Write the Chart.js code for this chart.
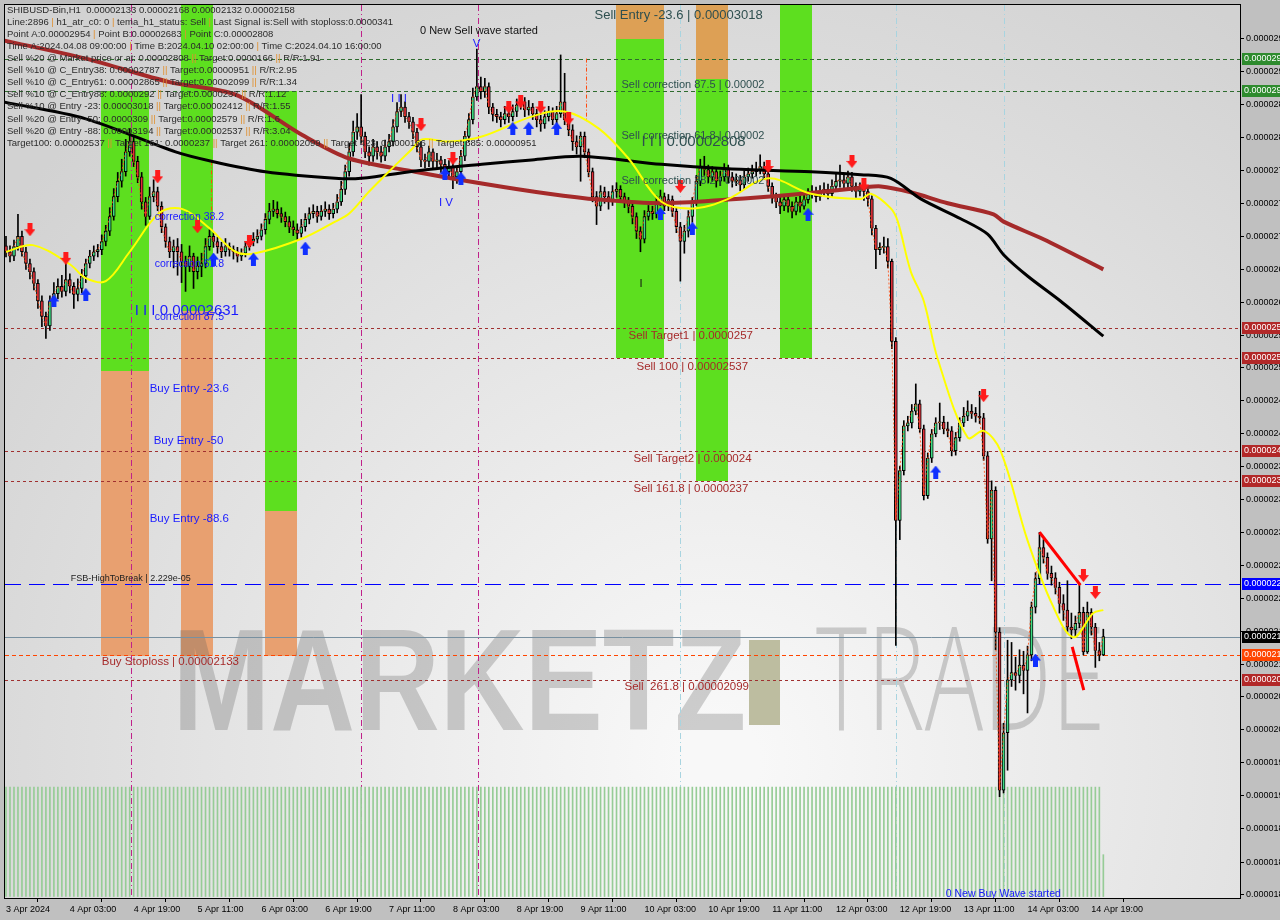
<!DOCTYPE html>
<html>
<head>
<meta charset="utf-8">
<title>SHIBUSD-Bin,H1</title>
<script src="https://cdn.jsdelivr.net/npm/chart.js@4.4.1/dist/chart.umd.min.js"></script>
<style>
  html, body { margin: 0; padding: 0; background: #c0c0c0; }
  canvas { display: block; }
</style>
</head>
<body>
<canvas id="chart" width="1280" height="920"></canvas>
<script>
"use strict";

// all prices are in points of 0.00000001 USD
const POINT = 1e-8;

//-------------- candles (H1 bars, 3 Apr 11:00 -> 14 Apr 22:00) -------------
const firstOpen = 2690;
const closes = [
  2682,2676,2689,2703,2682,2666,2655,2639,2615,2594,
  2581,2615,2625,2635,2628,2644,2635,2624,2632,2649,
  2666,2676,2682,2685,2696,2710,2730,2757,2778,2791,
  2818,2832,2805,2784,2750,2730,2757,2764,2744,2716,
  2696,2682,2689,2682,2669,2662,2676,2655,2662,2666,
  2689,2703,2696,2689,2682,2689,2685,2682,2676,2680,
  2689,2696,2699,2703,2712,2726,2737,2740,2734,2730,
  2723,2716,2712,2707,2716,2726,2734,2737,2730,2737,
  2740,2734,2740,2750,2767,2791,2818,2845,2852,2839,
  2818,2812,2825,2818,2812,2825,2832,2852,2873,2879,
  2866,2859,2845,2825,2807,2805,2818,2805,2807,2801,
  2791,2798,2784,2791,2812,2839,2862,2893,2907,2900,
  2907,2879,2869,2866,2862,2870,2866,2873,2882,2886,
  2875,2879,2870,2862,2856,2866,2873,2862,2870,2886,
  2862,2848,2832,2825,2839,2818,2791,2757,2744,2764,
  2757,2750,2764,2767,2757,2750,2744,2730,2710,2699,
  2730,2737,2734,2750,2757,2744,2753,2737,2716,2696,
  2710,2730,2750,2778,2798,2794,2784,2791,2778,2784,
  2794,2784,2778,2780,2773,2784,2788,2791,2794,2798,
  2788,2771,2757,2750,2744,2753,2744,2737,2750,2744,
  2753,2761,2764,2757,2764,2767,2761,2771,2778,2780,
  2775,2784,2771,2764,2768,2764,2754,2714,2685,2688,
  2689,2669,2560,2316,2384,2445,2449,2465,2475,2441,
  2350,2401,2434,2449,2450,2441,2438,2411,2429,2449,
  2458,2465,2462,2458,2456,2404,2291,2357,2164,1949,
  2027,2099,2109,2105,2119,2112,2133,2198,2237,2279,
  2266,2244,2238,2225,2203,2194,2171,2167,2176,2191,
  2137,2191,2171,2139,2133,2158
];
const highs = [
  2703,2690,2698,2733,2710,2688,2672,2660,2644,2622,
  2600,2622,2640,2645,2650,2666,2652,2640,2645,2658,
  2672,2684,2690,2692,2705,2718,2742,2768,2790,2808,
  2835,2850,2838,2812,2790,2756,2770,2780,2770,2750,
  2720,2702,2698,2700,2692,2676,2690,2680,2675,2680,
  2700,2712,2708,2702,2695,2700,2694,2690,2688,2686,
  2696,2704,2708,2712,2720,2734,2748,2752,2750,2742,
  2736,2730,2724,2720,2726,2734,2742,2746,2744,2745,
  2750,2746,2748,2760,2778,2800,2830,2860,2870,2896,
  2845,2825,2835,2832,2826,2834,2842,2862,2885,2896,
  2886,2872,2865,2850,2832,2815,2826,2822,2816,2812,
  2808,2806,2802,2798,2820,2846,2870,2905,2958,2920,
  2918,2912,2884,2876,2872,2880,2878,2882,2890,2895,
  2892,2888,2884,2876,2868,2874,2880,2878,2880,2950,
  2925,2868,2855,2840,2845,2845,2822,2796,2764,2772,
  2770,2764,2772,2776,2772,2762,2756,2750,2735,2716,
  2738,2745,2744,2758,2766,2762,2760,2758,2742,2722,
  2718,2738,2756,2786,2808,2812,2800,2798,2796,2792,
  2802,2800,2790,2788,2786,2792,2796,2800,2804,2814,
  2804,2792,2776,2762,2756,2760,2758,2750,2756,2758,
  2760,2768,2772,2770,2772,2776,2774,2780,2790,2800,
  2788,2792,2790,2776,2776,2774,2770,2758,2718,2694,
  2702,2700,2672,2565,2390,2452,2458,2474,2502,2480,
  2446,2408,2440,2456,2476,2458,2450,2444,2436,2456,
  2470,2479,2474,2470,2492,2462,2410,2370,2362,2170,
  2040,2153,2150,2130,2140,2138,2145,2205,2245,2300,
  2290,2272,2254,2245,2232,2215,2234,2190,2186,2229,
  2198,2205,2196,2176,2150,2168
];
const lows = [
  2675,2668,2670,2684,2676,2658,2645,2630,2605,2580,
  2564,2575,2608,2618,2620,2622,2626,2605,2615,2626,
  2640,2660,2670,2675,2678,2690,2704,2725,2750,2770,
  2785,2812,2798,2776,2740,2718,2726,2750,2738,2708,
  2688,2674,2660,2650,2640,2628,2655,2632,2645,2648,
  2660,2684,2688,2680,2674,2676,2676,2672,2668,2670,
  2675,2684,2690,2694,2698,2706,2720,2730,2728,2722,
  2716,2708,2704,2698,2702,2710,2720,2728,2722,2725,
  2730,2726,2728,2735,2745,2760,2785,2812,2835,2830,
  2810,2800,2805,2808,2804,2806,2818,2826,2845,2866,
  2858,2850,2836,2818,2798,2796,2798,2796,2796,2790,
  2784,2785,2768,2775,2785,2806,2832,2856,2888,2890,
  2892,2870,2860,2858,2852,2856,2858,2860,2866,2876,
  2866,2868,2862,2852,2846,2850,2860,2855,2856,2865,
  2855,2840,2820,2815,2778,2810,2784,2750,2719,2738,
  2748,2740,2745,2756,2750,2742,2735,2720,2700,2682,
  2694,2725,2726,2728,2745,2738,2738,2730,2708,2642,
  2680,2702,2722,2745,2772,2786,2776,2778,2770,2772,
  2778,2776,2770,2772,2765,2768,2778,2782,2785,2788,
  2780,2764,2748,2742,2734,2738,2736,2728,2732,2736,
  2740,2748,2755,2750,2752,2758,2754,2756,2766,2770,
  2766,2768,2764,2756,2758,2752,2744,2705,2659,2678,
  2680,2660,2550,2146,2290,2378,2438,2442,2460,2436,
  2344,2346,2395,2430,2440,2434,2430,2404,2405,2424,
  2444,2452,2455,2450,2448,2398,2285,2234,2140,1940,
  1945,1976,2090,2085,2095,2080,2054,2125,2190,2230,
  2258,2236,2228,2216,2190,2180,2165,2155,2157,2170,
  2133,2135,2160,2116,2125,2132
];

//-------------- axes ---------------------------------------------------------
const priceMin = 1802;
const priceMax = 3018;
const priceTicks = [2972,2927,2882,2837,2792,2748,2703,2658,2613,2568,2524,2479,2434,
  2389,2344,2300,2255,2210,2165,2120,2076,2031,1986,1941,1896,1851,1807];
const timeTickBars = [0,16,32,48,64,80,96,112,128,144,160,176,192,208,224,240,256,272];
const timeLabels = ["3 Apr 2024","4 Apr 03:00","4 Apr 19:00","5 Apr 11:00","6 Apr 03:00",
  "6 Apr 19:00","7 Apr 11:00","8 Apr 03:00","8 Apr 19:00","9 Apr 11:00","10 Apr 03:00",
  "10 Apr 19:00","11 Apr 11:00","12 Apr 03:00","12 Apr 19:00","13 Apr 11:00",
  "14 Apr 03:00","14 Apr 19:00"];
const barMin = -0.25;
const barMax = 309.25;

//-------------- moving averages ([bar, price]) -------------------------------
const maBlack = [[-0.75,2886],[20,2863],[42.5,2818],[51.75,2805],[65,2791],[82.5,2782],
  [89,2782],[104.25,2793],[119.25,2801],[131.75,2807],[144.25,2812],[164.25,2801],
  [181,2795],[201.75,2791],[214.25,2787],[221.75,2782],[229.25,2754],[239.25,2727],
  [246,2706],[250,2678],[256,2649],[264.25,2615],[275,2567]];
const maRed = [[-0.75,2970],[20,2945],[41,2913],[57.5,2896],[74.25,2841],[86,2809],
  [102.5,2791],[119.25,2775],[136,2761],[148.5,2753],[164.25,2748],[181,2753],
  [197.5,2760],[214.25,2769],[219.25,2771],[226.75,2763],[236,2748],[247.5,2733],
  [250,2723],[260,2699],[275,2658]];
const maYellow = [[0,2682],[6.75,2691],[16,2665],[20,2646],[25,2642],[31,2682],[38.5,2735],
  [44.25,2740],[51,2714],[57.5,2682],[62.5,2680],[74.25,2700],[82.5,2723],[86,2734],
  [91,2764],[94.25,2782],[101.75,2822],[104.25,2835],[111,2832],[119.25,2839],
  [131.75,2866],[140,2873],[148.5,2850],[156,2809],[164.25,2750],[172.5,2741],[181,2754],
  [191,2782],[201.75,2761],[214.25,2754],[216.75,2761],[221.75,2741],[223.5,2723],
  [226.75,2655],[230,2615],[233.5,2536],[241,2429],[245,2438],[249.25,2411],[256,2289],
  [262.5,2198],[267.5,2157],[272.5,2190],[275,2194]];

//-------------- signals -------------------------------------------------------
const sellArrows = [[6,2712],[15,2673],[38,2784],[48,2716],[61,2696],[104,2855],[112,2809],
  [126,2879],[129,2886],[134,2879],[141,2863],[169,2771],[191,2798],[212,2805],[215,2773],
  [245,2486],[270,2241],[273,2218]];
const buyArrows = [[12,2615],[20,2624],[52,2672],[62,2672],[75,2687],[110,2788],[114,2782],
  [127,2850],[131,2850],[138,2850],[164,2734],[172,2714],[201,2733],[233,2382],[258,2126]];
const trendUpper = [[259,2300],[269.25,2228]];
const trendLower = [[267.2,2144],[270.1,2085]];

// wave state histogram: [first bar, last bar, level]
const histRuns = [[0,274,1953],[275,275,1861]];
const histBase = 1804;

//-------------- levels and zones ---------------------------------------------
const correctionLevels = [2945, 2901];
const sellLevels = [2578, 2537, 2411, 2370, 2099];
const fsbLevel = 2229;
const lastPrice = closes[closes.length - 1];
const buyStopLevel = 2133;
// [from bar, to bar, green top, green bottom / orange top, orange bottom]
const buyZones = [[23.9,35.8,2901,2519,2132],[43.9,51.8,3018,2601,2132],[64.9,73,2901,2329,2132]];
// [from bar, to bar, orange top, orange bottom / green top, green bottom]
const sellZones = [[152.9,164.8,3018,2972,2537],[172.9,181,3018,2917,2370],[193.9,202,3018,3018,2537]];
const stopZone = [186.2,193.9,2153,2037];
const waveMarks = [31.25, 89, 118.25];
const pivotMarks = [169, 223, 250];
const signalMarks = [[51.25,2805,2719],[145.25,2945,2859]];

//-------------- texts ---------------------------------------------------------
const infoLines = [
  "SHIBUSD-Bin,H1  0.00002133 0.00002168 0.00002132 0.00002158",
  "Line:2896 | h1_atr_c0: 0 | tema_h1_status: Sell | Last Signal is:Sell with stoploss:0.0000341",
  "Point A:0.00002954 | Point B:0.00002683 | Point C:0.00002808",
  "Time A:2024.04.08 09:00:00 | Time B:2024.04.10 02:00:00 | Time C:2024.04.10 16:00:00",
  "Sell %20 @ Market price or at: 0.00002808 || Target:0.0000166 || R/R:1.91",
  "Sell %10 @ C_Entry38: 0.00002787 || Target:0.00000951 || R/R:2.95",
  "Sell %10 @ C_Entry61: 0.00002865 || Target:0.00002099 || R/R:1.34",
  "Sell %10 @ C_Entry88: 0.0000292 || Target:0.0000237 || R/R:1.12",
  "Sell %10 @ Entry -23: 0.00003018 || Target:0.00002412 || R/R:1.55",
  "Sell %20 @ Entry -50: 0.0000309 || Target:0.00002579 || R/R:1.6",
  "Sell %20 @ Entry -88: 0.00003194 || Target:0.00002537 || R/R:3.04",
  "Target100: 0.00002537 || Target 161: 0.0000237 || Target 261: 0.00002099 || Target 423: 0.0000166 || Target 685: 0.00000951"
];
// [text, bar, price, style]
const chartNotes = [
  ["Sell Entry -23.6 | 0.00003018", 147.5, 3004, "slateBig"],
  ["Sell correction 87.5 | 0.00002", 154.25, 2909, "slate"],
  ["Sell correction 61.8 | 0.00002", 154.25, 2840, "slate"],
  ["I I I 0.00002808", 159.25, 2831, "slateHuge"],
  ["Sell correction 38.2 | 0.00002", 154.25, 2778, "slate"],
  ["I", 158.75, 2638, "dark"],
  ["0 New Sell wave started", 103.75, 2983, "dark"],
  ["V", 117, 2965, "blue"],
  ["I I I", 96.5, 2890, "blue"],
  ["I V", 108.5, 2749, "blue"],
  ["Sell Target1 | 0.0000257", 156, 2567, "red"],
  ["Sell 100 | 0.00002537", 158, 2525, "red"],
  ["Sell Target2 | 0.000024", 157.25, 2400, "red"],
  ["Sell 161.8 | 0.0000237", 157.25, 2359, "red"],
  ["Sell  261.8 | 0.00002099", 155, 2089, "red"],
  ["Buy Stoploss | 0.00002133", 24, 2124, "red"],
  ["Buy Entry -23.6", 36, 2495, "blue"],
  ["Buy Entry -50", 37, 2424, "blue"],
  ["Buy Entry -88.6", 36, 2318, "blue"],
  ["correction 38.2", 37.25, 2729, "blueSmall"],
  ["correction 61.8", 37.25, 2665, "blueSmall"],
  ["correction 87.5", 37.25, 2593, "blueSmall"],
  ["I I I 0.00002631", 32.25, 2601, "blueBig"],
  ["0 New Buy Wave started", 235.5, 1807, "blueSmall"],
  ["FSB-HighToBreak | 2.229e-05", 16.25, 2237, "tiny"]
];
const noteStyles = {
  slateBig: { font: '13px "Liberation Sans"', color: "#2f4f4f" },
  slate: { font: '11px "Liberation Sans"', color: "#2f4f4f" },
  slateHuge: { font: '15px "Liberation Sans"', color: "#2f4f4f" },
  dark: { font: '11px "Liberation Sans"', color: "#111" },
  red: { font: '11.5px "Liberation Sans"', color: "#a52a2a" },
  blue: { font: '11.5px "Liberation Sans"', color: "#1a1aff" },
  blueSmall: { font: '10.5px "Liberation Sans"', color: "#1a1aff" },
  blueBig: { font: '15px "Liberation Sans"', color: "#1a1aff" },
  tiny: { font: '9px "Liberation Sans"', color: "#222" }
};

//-------------- building the datasets ---------------------------------------
const opens = closes.map((c, i) => i === 0 ? firstOpen : closes[i - 1]);
const pairs = list => list.map(([x, y]) => ({ x: x, y: y }));

let histData = [];
for (let run of histRuns) {
  for (let i = run[0]; i <= run[1]; i++) histData.push({ x: i, y: [histBase, run[2]] });
}

function makeArrow(color, down) {
  const c = document.createElement("canvas");
  c.width = 11; c.height = 13;
  const g = c.getContext("2d");
  g.fillStyle = color;
  g.beginPath();
  if (down) {
    g.moveTo(3, 0); g.lineTo(8, 0); g.lineTo(8, 6); g.lineTo(11, 6);
    g.lineTo(5.5, 13); g.lineTo(0, 6); g.lineTo(3, 6);
  } else {
    g.moveTo(3, 13); g.lineTo(8, 13); g.lineTo(8, 7); g.lineTo(11, 7);
    g.lineTo(5.5, 0); g.lineTo(0, 7); g.lineTo(3, 7);
  }
  g.closePath();
  g.fill();
  return c;
}
const redArrow = makeArrow("#ff1a1a", true);
const blueArrow = makeArrow("#1030ff", false);

//-------------- drawing helpers (plugin) -------------------------------------
function hLine(chart, price, color, dash, width) {
  const { ctx, chartArea } = chart;
  const y = Math.round(chart.scales.y.getPixelForValue(price)) + 0.5;
  ctx.save();
  ctx.strokeStyle = color;
  ctx.lineWidth = width || 1;
  ctx.setLineDash(dash);
  ctx.beginPath();
  ctx.moveTo(chartArea.left, y);
  ctx.lineTo(chartArea.right, y);
  ctx.stroke();
  ctx.restore();
}

function vLine(chart, bar, top, bottom, color, dash) {
  const { ctx } = chart;
  const x = Math.round(chart.scales.x.getPixelForValue(bar)) + 0.5;
  ctx.save();
  ctx.strokeStyle = color;
  ctx.lineWidth = 1;
  ctx.setLineDash(dash);
  ctx.beginPath();
  ctx.moveTo(x, chart.scales.y.getPixelForValue(top));
  ctx.lineTo(x, chart.scales.y.getPixelForValue(bottom));
  ctx.stroke();
  ctx.restore();
}

function zoneRect(chart, from, to, top, bottom, color) {
  const xs = chart.scales.x, ys = chart.scales.y;
  const x0 = Math.round(xs.getPixelForValue(from));
  const x1 = Math.round(xs.getPixelForValue(to));
  const y0 = Math.round(ys.getPixelForValue(top));
  const y1 = Math.round(ys.getPixelForValue(bottom));
  chart.ctx.fillStyle = color;
  chart.ctx.fillRect(x0, y0, x1 - x0, y1 - y0);
}

function fitText(chart, text, font, from, to, top, bottom, color) {
  const { ctx } = chart;
  const xs = chart.scales.x, ys = chart.scales.y;
  const x0 = xs.getPixelForValue(from), x1 = xs.getPixelForValue(to);
  const y0 = ys.getPixelForValue(top), y1 = ys.getPixelForValue(bottom);
  ctx.save();
  ctx.font = font;
  const w = ctx.measureText(text).width;
  ctx.translate(x0, y1);
  ctx.scale((x1 - x0) / w, (y1 - y0) / 72);
  ctx.fillStyle = color;
  ctx.textBaseline = "alphabetic";
  ctx.fillText(text, 0, 0);
  ctx.restore();
}

function axisBox(chart, price, bg) {
  const { ctx } = chart;
  const y = Math.round(chart.scales.y.getPixelForValue(price));
  const x = chart.chartArea.right + 2;
  ctx.fillStyle = bg;
  ctx.fillRect(x, y - 6, chart.width - x, 12);
  ctx.fillStyle = "#fff";
  ctx.font = '9px "Liberation Sans"';
  ctx.textBaseline = "middle";
  ctx.textAlign = "left";
  ctx.fillText((price * POINT).toFixed(8), x + 2, y);
}

function pipedText(ctx, line, x, y) {
  const parts = line.split("|");
  parts.forEach((part, k) => {
    ctx.fillStyle = "#2b2b2b";
    ctx.fillText(part, x, y);
    x += ctx.measureText(part).width;
    if (k < parts.length - 1) {
      ctx.fillStyle = "#e09030";
      ctx.fillText("|", x, y);
      x += ctx.measureText("|").width;
    }
  });
}

const scenePlugin = {
  id: "scene",
  beforeDraw(chart) {
    const { ctx, chartArea: a } = chart;
    ctx.save();
    ctx.fillStyle = "#c0c0c0";
    ctx.fillRect(0, 0, chart.width, chart.height);
    const g = ctx.createRadialGradient(720, 760, 40, 720, 760, 900);
    g.addColorStop(0, "#f8f8f8");
    g.addColorStop(1, "#d2d2d2");
    ctx.fillStyle = g;
    ctx.fillRect(a.left, a.top, a.right - a.left, a.bottom - a.top);
    ctx.restore();
  },
  beforeDatasetsDraw(chart) {
    const { ctx, chartArea: a } = chart;
    ctx.save();
    ctx.beginPath();
    ctx.rect(a.left, a.top, a.right - a.left, a.bottom - a.top);
    ctx.clip();
    for (let z of buyZones) {
      zoneRect(chart, z[0], z[1], z[2], z[3], "#5ddf1f");
      zoneRect(chart, z[0], z[1], z[3], z[4], "#e8a070");
    }
    for (let z of sellZones) {
      zoneRect(chart, z[0], z[1], z[2], z[3], "#dda055");
      zoneRect(chart, z[0], z[1], z[3], z[4], "#5ddf1f");
    }
    zoneRect(chart, stopZone[0], stopZone[1], stopZone[2], stopZone[3], "#bdbda0");
    // watermark
    fitText(chart, "MARKETZ", 'bold 100px "Liberation Sans"', 41.75, 185.5, 2173, 2031, "rgba(95,95,95,0.28)");
    fitText(chart, "TRADE", '300 100px "Open Sans"', 203, 275.5, 2173, 2031, "rgba(120,120,120,0.34)");
    // levels
    for (let p of correctionLevels) hLine(chart, p, "#2e6b2e", [4, 3]);
    for (let p of sellLevels) hLine(chart, p, "#a03030", [3, 3]);
    hLine(chart, fsbLevel, "#0000ff", [16, 8]);
    hLine(chart, lastPrice, "#7890a0", []);
    hLine(chart, buyStopLevel, "#ff4500", [4, 3]);
    for (let b of waveMarks) vLine(chart, b, priceMax, priceMin, "#c0208a", [6, 3, 1, 3]);
    for (let b of pivotMarks) vLine(chart, b, priceMax, priceMin, "#a8d4e0", [6, 3, 1, 3]);
    for (let m of signalMarks) vLine(chart, m[0], m[1], m[2], "#ff4a10", [4, 2, 1, 2]);
    ctx.restore();
  },
  afterDraw(chart) {
    const { ctx, chartArea: a } = chart;
    ctx.save();
    // notes on the chart
    ctx.textBaseline = "middle";
    ctx.textAlign = "left";
    for (let [text, bar, price, style] of chartNotes) {
      ctx.font = noteStyles[style].font;
      ctx.fillStyle = noteStyles[style].color;
      ctx.fillText(text, chart.scales.x.getPixelForValue(bar), chart.scales.y.getPixelForValue(price));
    }
    // info block
    ctx.font = '9.5px "Liberation Sans"';
    infoLines.forEach((line, i) => pipedText(ctx, line, 7, 10 + 12.1 * i));
    // frame
    ctx.strokeStyle = "#000";
    ctx.lineWidth = 1;
    ctx.strokeRect(a.left - 0.5, a.top - 0.5, a.right - a.left + 1, a.bottom - a.top + 1);
    // price boxes on the axis
    for (let p of correctionLevels) axisBox(chart, p, "#2e8b2e");
    for (let p of sellLevels) axisBox(chart, p, "#b22828");
    axisBox(chart, fsbLevel, "#0000ff");
    axisBox(chart, buyStopLevel, "#ff4500");
    axisBox(chart, lastPrice, "#000");
    ctx.restore();
  }
};

//-------------- the chart ----------------------------------------------------
const tickFont = { family: "Liberation Sans", size: 9 };

new Chart(document.getElementById("chart"), {
  type: "bar",
  data: {
    datasets: [
      {
        type: "scatter", data: pairs(sellArrows), pointStyle: redArrow, order: -2
      },
      {
        type: "scatter", data: pairs(buyArrows), pointStyle: blueArrow, order: -2
      },
      {
        type: "line", data: pairs(trendUpper), borderColor: "#ff0000", borderWidth: 3,
        pointRadius: 0, order: -1
      },
      {
        type: "line", data: pairs(trendLower), borderColor: "#ff0000", borderWidth: 3,
        pointRadius: 0, order: -1
      },
      {
        type: "line", data: pairs(maYellow), borderColor: "#ffff00", borderWidth: 2,
        pointRadius: 0, tension: 0.35, order: 0
      },
      {
        type: "line", data: pairs(maBlack), borderColor: "#000", borderWidth: 3,
        pointRadius: 0, tension: 0.3, order: 1
      },
      {
        type: "line", data: pairs(maRed), borderColor: "#a52a2a", borderWidth: 4,
        pointRadius: 0, tension: 0.3, order: 2
      },
      {
        type: "line", data: closes.map((c, i) => ({ x: i, y: c })), borderColor: "rgba(255,80,20,0.85)",
        borderWidth: 1, borderDash: [2, 2], pointRadius: 0, order: 3
      },
      {
        label: "bodies",
        data: closes.map((c, i) => ({ x: i, y: [opens[i], c] })),
        backgroundColor: closes.map((c, i) => c >= opens[i] ? "#3ddc84" : "#e0303a"),
        borderColor: "#000", borderWidth: 1, borderSkipped: false,
        barThickness: 3, minBarLength: 1, grouped: false, order: 4
      },
      {
        label: "wicks",
        data: closes.map((c, i) => ({ x: i, y: [lows[i], highs[i]] })),
        backgroundColor: "#000", borderWidth: 0,
        barThickness: 1, grouped: false, order: 5
      },
      {
        label: "wave state",
        data: histData, backgroundColor: "#96cc96", borderWidth: 0,
        barThickness: 1, grouped: false, order: 6
      }
    ]
  },
  options: {
    responsive: false,
    animation: false,
    devicePixelRatio: 1,
    layout: { padding: { left: 2, top: 3, right: 0, bottom: 0 } },
    plugins: { legend: { display: false }, tooltip: { enabled: false } },
    scales: {
      x: {
        type: "linear", min: barMin, max: barMax, offset: false,
        grid: { drawOnChartArea: false, drawTicks: true, tickLength: 4, color: "#000" },
        border: { display: true, color: "#000" },
        ticks: {
          autoSkip: false, maxRotation: 0, align: "start", padding: 2,
          font: tickFont, color: "#000",
          callback: (v, i) => timeLabels[i]
        },
        afterBuildTicks: s => { s.ticks = timeTickBars.map(v => ({ value: v })) },
        afterFit: s => { s.height = 22; s.paddingLeft = 0; s.paddingRight = 0 }
      },
      y: {
        position: "right", min: priceMin, max: priceMax,
        grid: { drawOnChartArea: false, drawTicks: true, tickLength: 4, color: "#000" },
        border: { display: true, color: "#000" },
        ticks: {
          padding: 2, font: tickFont, color: "#000",
          callback: v => (v * POINT).toFixed(8)
        },
        afterBuildTicks: s => { s.ticks = priceTicks.map(v => ({ value: v })) },
        afterFit: s => { s.width = 40; s.paddingTop = 0; s.paddingBottom = 0 }
      }
    }
  },
  plugins: [scenePlugin]
});
</script>
</body>
</html>
